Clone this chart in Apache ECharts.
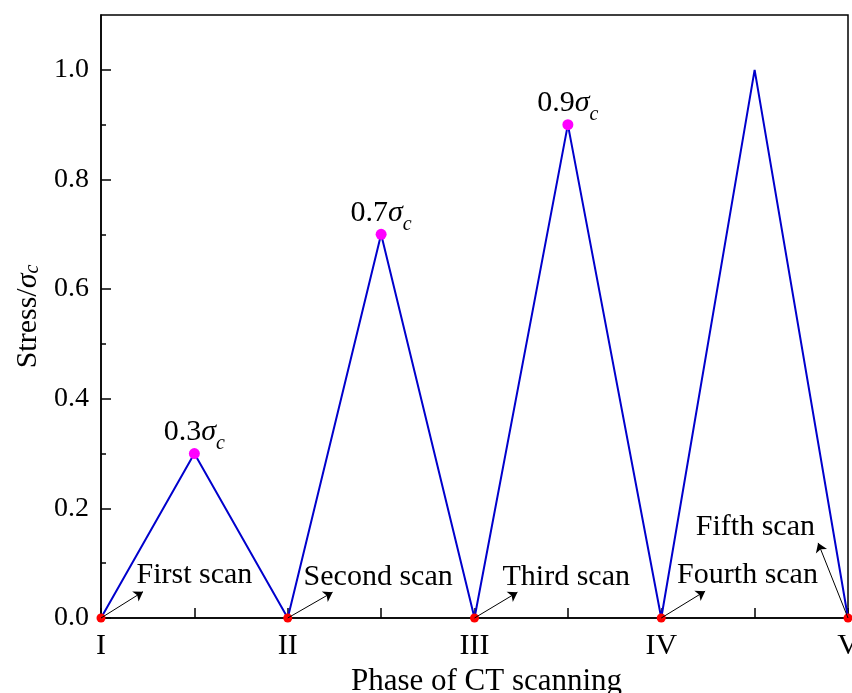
<!DOCTYPE html>
<html><head><meta charset="utf-8">
<script src="https://cdn.jsdelivr.net/npm/echarts@6/dist/echarts.min.js"></script>
<style>html,body{margin:0;padding:0;background:#fff}#c{width:852px;height:693px}</style>
</head><body><div id="c"></div>
<script>
const positions = [0, 1, 2, 3, 4, 5, 6, 7, 8];
const stress = [0, 0.3, 0, 0.7, 0, 0.9, 0, 1.0, 0];
const peakText = [null, '0.3', null, '0.7', null, '0.9', null, null, null];
const phaseLabels = {0: 'I', 2: 'II', 4: 'III', 6: 'IV', 8: 'V'};
const yMajor = [0, 0.2, 0.4, 0.6, 0.8, 1.0];
const yMinor = [0.1, 0.3, 0.5, 0.7, 0.9];
const scanNames = ['First scan', 'Second scan', 'Third scan', 'Fourth scan', 'Fifth scan'];
const scanTextPos = [[0.38, 0.078], [2.17, 0.075], [4.30, 0.075], [6.17, 0.078], [6.37, 0.166]];
const arrowFrom = [[0, 0], [2, 0], [4, 0], [6, 0], [8, 0]];
const arrowTo = [[0.45, 0.048], [2.48, 0.047], [4.46, 0.047], [6.47, 0.049], [7.68, 0.137]];

const FONT = 'Liberation Serif';
const chart = echarts.init(document.getElementById('c'));

const lineData = positions.map((x, i) => {
  const y = stress[i];
  const item = {value: [x, y]};
  if (y === 0) {
    item.symbol = 'circle'; item.symbolSize = 9;
    item.itemStyle = {color: '#ff0000'};
  } else if (peakText[i]) {
    item.symbol = 'circle'; item.symbolSize = 11;
    item.itemStyle = {color: '#ff00ff'};
    item.label = {
      show: true, position: 'top', distance: 1,
      formatter: '{n|' + peakText[i] + '}{s|σ}{c|c}',
      rich: {
        n: {fontFamily: FONT, fontSize: 30, color: '#000', verticalAlign: 'bottom', lineHeight: 30},
        s: {fontFamily: FONT, fontSize: 30, fontStyle: 'italic', color: '#000', verticalAlign: 'bottom', lineHeight: 30},
        c: {fontFamily: FONT, fontSize: 20, fontStyle: 'italic', color: '#000', verticalAlign: 'bottom', lineHeight: 20, padding: [0, 0, -7, 0]}
      }
    };
  } else {
    item.symbol = 'none';
  }
  return item;
});

chart.setOption({
  animation: false,
  grid: {left: 101, right: 4, top: 15, bottom: 75, show: true, borderColor: '#000', borderWidth: 1.5,
    backgroundColor: 'transparent', outerBoundsMode: 'none', containLabel: false},
  xAxis: {
    type: 'value', min: 0, max: 8, interval: 1,
    name: 'Phase of CT scanning', nameLocation: 'middle', nameGap: 45,
    nameTextStyle: {fontFamily: FONT, fontSize: 31, color: '#000', padding: [0, 0, 0, 24]},
    axisLine: {show: true, lineStyle: {color: '#000', width: 1.5}},
    axisTick: {show: true, inside: true, length: 10, lineStyle: {color: '#000', width: 1.5}},
    axisLabel: {fontFamily: FONT, fontSize: 30, color: '#000', margin: 13, showMaxLabel: true, showMinLabel: true,
      formatter: v => phaseLabels[v] || ''},
    splitLine: {show: false}
  },
  yAxis: [{
    type: 'value', min: 0, max: 1.1,
    name: 'Stress/{s|σ}{c|c}', nameLocation: 'middle', nameGap: 51, nameRotate: 90,
    nameTextStyle: {fontFamily: FONT, fontSize: 30, color: '#000',
      rich: {
        s: {fontFamily: FONT, fontSize: 30, fontStyle: 'italic', color: '#000'},
        c: {fontFamily: FONT, fontSize: 20, fontStyle: 'italic', color: '#000', padding: [10, 0, 0, 0]}
      }},
    axisLine: {show: true, lineStyle: {color: '#000', width: 1.5}},
    axisTick: {show: true, inside: true, length: 10, customValues: yMajor, lineStyle: {color: '#000', width: 1.5}},
    axisLabel: {fontFamily: FONT, fontSize: 28, color: '#000', margin: 12, customValues: yMajor,
      formatter: v => v.toFixed(1)},
    splitLine: {show: false}
  }, {
    type: 'value', min: 0, max: 1.1, position: 'left',
    axisLine: {show: false},
    axisTick: {show: true, inside: true, length: 5, customValues: yMinor, lineStyle: {color: '#000', width: 1.5}},
    axisLabel: {show: false},
    splitLine: {show: false}
  }],
  series: [{
    type: 'line', data: lineData,
    lineStyle: {color: '#0000cc', width: 2},
    itemStyle: {color: '#0000cc'},
    z: 3,
    markLine: {
      silent: true, symbol: ['none', 'arrow'], symbolSize: 9,
      lineStyle: {color: '#000', width: 1, type: 'solid'},
      itemStyle: {color: '#000'},
      label: {show: false},
      data: arrowFrom.map((f, i) => [{coord: f}, {coord: arrowTo[i]}])
    }
  }, {
    type: 'scatter', symbolSize: 0,
    itemStyle: {opacity: 1},
    data: scanNames.map((n, i) => ({name: n, value: scanTextPos[i]})),
    label: {show: true, position: 'right', distance: 0, formatter: p => p.name,
      fontFamily: FONT, fontSize: 30, color: '#000', opacity: 1}
  }]
});
</script></body></html>
